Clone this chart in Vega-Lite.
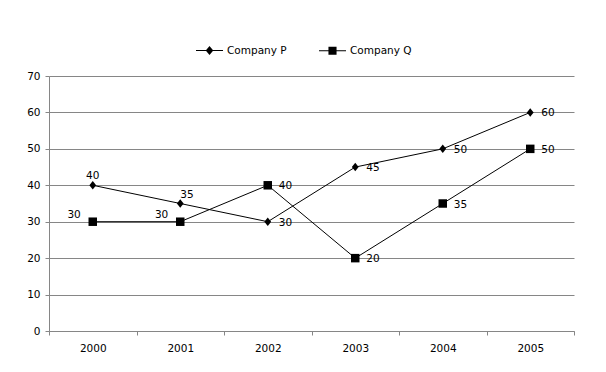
{
  "$schema": "https://vega.github.io/schema/vega-lite/v6.json",
  "width": 525,
  "height": 255,
  "autosize": {"type": "none"},
  "padding": {"left": 49, "top": 76, "right": 32, "bottom": 41},
  "background": "white",
  "config": {
    "view": {"stroke": null},
    "font": "DejaVu Sans",
    "axis": {"labelFont": "DejaVu Sans", "labelFontSize": 10.5, "labelColor": "#000000", "domainColor": "#868686", "tickColor": "#868686", "gridColor": "#868686", "tickSize": 4},
    "legend": {"labelFont": "DejaVu Sans", "labelFontSize": 10.5, "labelColor": "#000000"}
  },
  "data": {
    "values": [
      {"year": "2000", "company": "Company P", "value": 40},
      {"year": "2001", "company": "Company P", "value": 35},
      {"year": "2002", "company": "Company P", "value": 30},
      {"year": "2003", "company": "Company P", "value": 45},
      {"year": "2004", "company": "Company P", "value": 50},
      {"year": "2005", "company": "Company P", "value": 60},
      {"year": "2000", "company": "Company Q", "value": 30},
      {"year": "2001", "company": "Company Q", "value": 30},
      {"year": "2002", "company": "Company Q", "value": 40},
      {"year": "2003", "company": "Company Q", "value": 20},
      {"year": "2004", "company": "Company Q", "value": 35},
      {"year": "2005", "company": "Company Q", "value": 50}
    ]
  },
  "encoding": {
    "x": {
      "field": "year", "type": "ordinal", "bandPosition": 0.5,
      "scale": {"type": "band", "paddingInner": 0, "paddingOuter": 0},
      "axis": {"title": null, "labelAngle": 0, "tickBand": "extent", "grid": false, "labelPadding": 8, "domainColor": "#868686"}
    },
    "y": {
      "field": "value", "type": "quantitative",
      "scale": {"domain": [0, 70]},
      "axis": {"title": null, "values": [0, 10, 20, 30, 40, 50, 60, 70], "grid": true, "domain": true, "labelPadding": 5}
    }
  },
  "layer": [
    {
      "mark": {"type": "line", "color": "#000000", "strokeWidth": 1},
      "encoding": {"detail": {"field": "company"}}
    },
    {
      "mark": {"type": "point", "filled": true, "color": "#000000", "opacity": 1, "size": 72},
      "encoding": {
        "shape": {
          "field": "company", "type": "nominal",
          "scale": {"domain": ["Company P", "Company Q"], "range": ["M-0.8,0L0,-1L0.8,0L0,1Z", "M-1,-1H1V1H-1Z"]},
          "legend": null
        }
      }
    },
    {
      "transform": [{"filter": "false"}],
      "mark": {"type": "point", "filled": true, "color": "#000000", "opacity": 1},
      "encoding": {
        "shape": {
          "field": "company", "type": "nominal",
          "scale": {"domain": ["Company P", "Company Q"], "range": ["M-1,-0.04H1V0.04H-1ZM0,-0.33L0.28,0L0,0.33L-0.28,0Z", "M-1,-0.04H1V0.04H-1ZM-0.3,-0.3H0.3V0.3H-0.3Z"]},
          "legend": {
            "title": null, "orient": "none", "direction": "horizontal",
            "legendX": 146, "legendY": -40,
            "symbolSize": 729, "labelOffset": 3, "columnPadding": 29,
            "symbolFillColor": "#000000", "symbolOpacity": 1
          }
        }
      }
    },
    {
      "transform": [{"filter": "datum.year !== '2000' && datum.year !== '2001'"}],
      "mark": {"type": "text", "align": "left", "baseline": "middle", "dx": 11, "dy": 1, "fontSize": 10.5, "color": "#000000"},
      "encoding": {"text": {"field": "value"}}
    },
    {
      "transform": [{"filter": "datum.company === 'Company P' && datum.year === '2000'"}],
      "mark": {"type": "text", "align": "center", "baseline": "middle", "dy": -9, "fontSize": 10.5, "color": "#000000"},
      "encoding": {"text": {"field": "value"}}
    },
    {
      "transform": [{"filter": "datum.company === 'Company P' && datum.year === '2001'"}],
      "mark": {"type": "text", "align": "left", "baseline": "middle", "dx": 0, "dy": -9, "fontSize": 10.5, "color": "#000000"},
      "encoding": {"text": {"field": "value"}}
    },
    {
      "transform": [{"filter": "datum.company === 'Company Q' && (datum.year === '2000' || datum.year === '2001')"}],
      "mark": {"type": "text", "align": "right", "baseline": "middle", "dx": -12, "dy": -7, "fontSize": 10.5, "color": "#000000"},
      "encoding": {"text": {"field": "value"}}
    }
  ],
  "resolve": {"scale": {"shape": "independent"}, "legend": {"shape": "independent"}}
}
